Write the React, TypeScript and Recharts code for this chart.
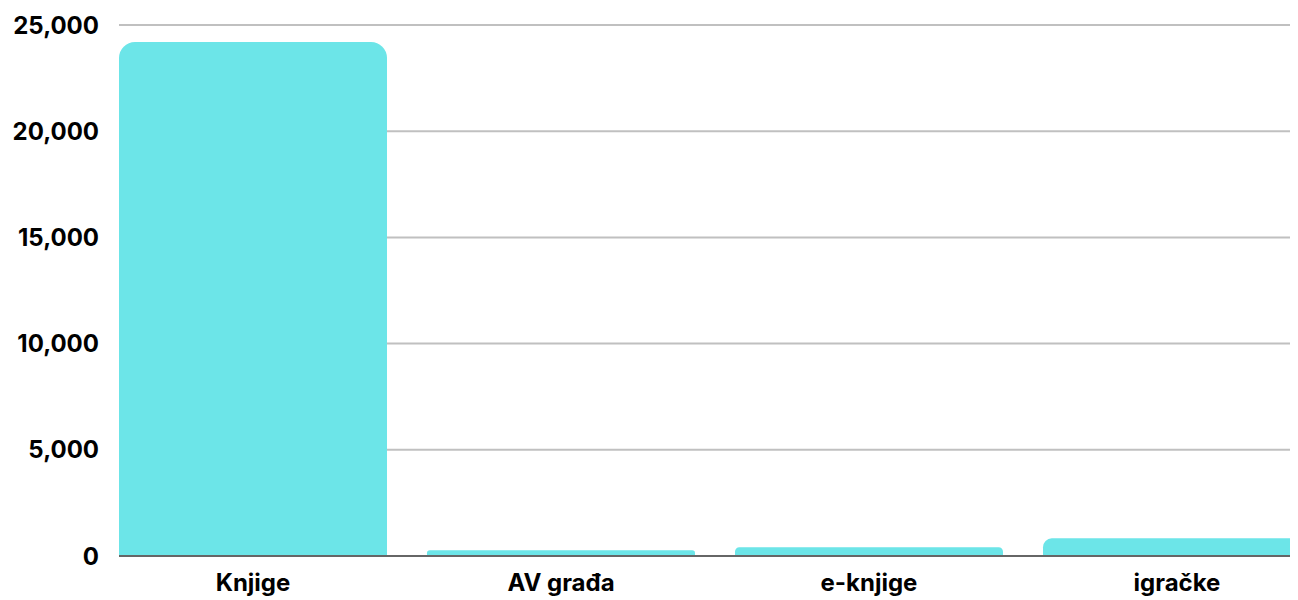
import { BarChart, Bar, XAxis, YAxis, CartesianGrid } from "recharts";

const categories = ["Knjige", "AV građa", "e-knjige", "igračke"];
const values = [24200, 270, 410, 830];
const yTicks = [0, 5000, 10000, 15000, 20000, 25000];

const data = categories.map((name, i) => ({ name, value: values[i] }));

const fmt = (v: number) => v.toLocaleString("en-US");

const tickStyle = { fill: "#000", fontSize: 24, fontWeight: 700, fontFamily: "Inter, sans-serif" };

export default function App() {
  return (
    <div style={{ width: 1298, overflow: "hidden" }}>
      <style>{"body { overflow: hidden; }"}</style>
      <BarChart
        width={1323}
        height={590}
        data={data}
        margin={{ top: 17, right: 0, bottom: 0, left: 0 }}
        barCategoryGap={20}
      >
        <CartesianGrid vertical={false} stroke="#c0c0c0" strokeWidth={2} />
        <XAxis
          dataKey="name"
          padding={{ left: -20, right: 0 }}
          tickLine={false}
          tickSize={0}
          tickMargin={18}
          height={42}
          stroke="#666"
          strokeWidth={2}
          tick={tickStyle}
          interval={0}
        />
        <YAxis
          width={111}
          domain={[0, 25000]}
          ticks={yTicks}
          tickFormatter={fmt}
          axisLine={false}
          tickLine={false}
          tickSize={0}
          tickMargin={20}
          tick={tickStyle}
        />
        <Bar dataKey="value" fill="#6ce5e8" radius={[16, 16, 0, 0]} isAnimationActive={false} />
      </BarChart>
    </div>
  );
}
